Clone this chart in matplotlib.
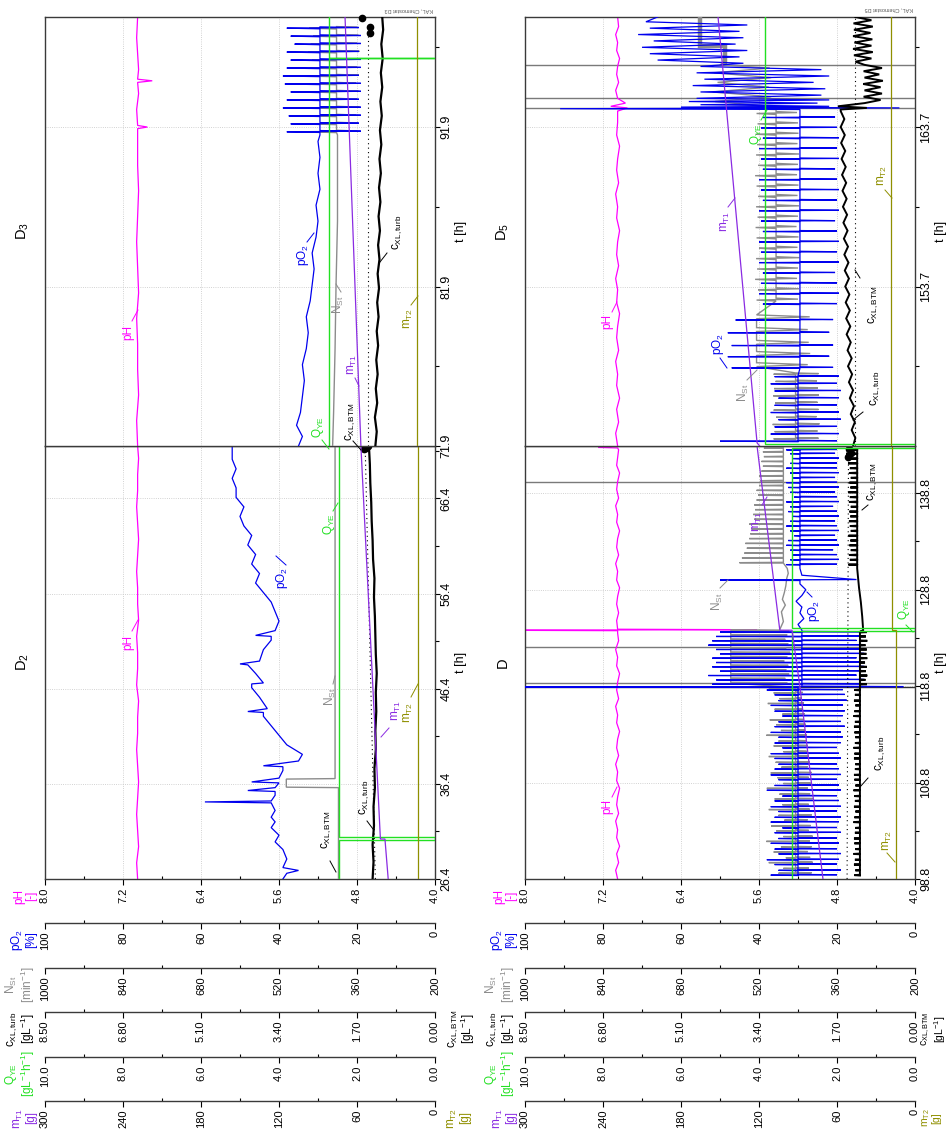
import numpy as np
import matplotlib.pyplot as plt
from matplotlib.lines import Line2D
from matplotlib.ticker import FixedLocator, FormatStrFormatter

plt.rcParams['font.family'] = ['Liberation Sans', 'DejaVu Sans']
plt.rcParams['mathtext.fontset'] = 'custom'
plt.rcParams['mathtext.rm'] = 'Liberation Sans'
plt.rcParams['mathtext.it'] = 'Liberation Sans:italic'
plt.rcParams['mathtext.bf'] = 'Liberation Sans:bold'

# ------------------------------------------------------------------ data
# time windows of the four cultivation phases [h]
t_D2 = (26.4, 71.9)
t_D3 = (71.9, 98.8)
t_D = (98.8, 143.7)
t_D5 = (143.7, 170.6)

# time axis ticks
ticks_D2 = [26.4, 36.4, 46.4, 56.4, 66.4]
ticks_D3 = [71.9, 81.9, 91.9]
ticks_D = [98.8, 108.8, 118.8, 128.8, 138.8]
ticks_D5 = [153.7, 163.7]
minor_D2 = [31.4, 41.4, 51.4, 61.4, 71.4]
minor_D3 = [76.9, 86.9, 96.9]
minor_D = [103.8, 113.8, 123.8, 133.8]
minor_D5 = [148.7, 158.7, 168.7]

# value axes: limits (max, min) and tick labels
lim_pH = (8.0, 4.0)
lim_pO2 = (100, 0)
lim_NSt = (1000, 200)
lim_cXL = (8.5, 0.0)
lim_QYE = (10.0, 0.0)
lim_mT = (300, 0)
ticks_pH = [8.0, 7.2, 6.4, 5.6, 4.8, 4.0]
ticks_pO2 = [100, 80, 60, 40, 20, 0]
ticks_NSt = [1000, 840, 680, 520, 360, 200]
ticks_cXL = [8.50, 6.80, 5.10, 3.40, 1.70, 0.00]
ticks_QYE = [10.0, 8.0, 6.0, 4.0, 2.0, 0.0]
ticks_mT = [300, 240, 180, 120, 60, 0]

# ---- phase D2
pH_D2_t = [26.4, 28.1, 29.8, 31.5, 33.2, 34.9, 36.6, 38.3, 40.0, 41.7, 43.4, 45.1, 46.8, 48.5,
           50.2, 51.9, 53.6, 55.3, 57.0, 58.7, 60.4, 62.1, 63.8, 65.5, 67.2, 68.9, 70.6, 71.9]
pH_D2_v = [7.05, 7.06, 7.04, 7.05, 7.06, 7.05, 7.04, 7.05, 7.06, 7.05, 7.05, 7.04, 7.06, 7.05,
           7.05, 7.06, 7.04, 7.05, 7.05, 7.06, 7.05, 7.04, 7.05, 7.06, 7.05, 7.05, 7.04, 7.05]
pO2_D2_t = [26.4, 27.0, 27.3, 27.6, 28.5, 29.5, 30.3, 31.0, 31.8, 32.4, 32.9, 33.6, 34.4, 34.5,
            34.6, 35.2, 35.6, 35.7, 36.0, 36.5, 36.6, 37.0, 37.8, 38.2, 38.3, 38.8, 39.5, 40.5,
            41.5, 42.5, 43.5, 43.9, 44.0, 44.3, 45.5, 46.5, 46.9, 47.0, 48.0, 48.9, 49.0, 49.3,
            50.5, 51.5, 51.9, 52.0, 52.5, 53.5, 54.5, 55.5, 56.5, 57.5, 58.5, 59.5, 60.5, 61.5,
            62.5, 63.5, 64.5, 65.5, 66.5, 67.5, 68.5, 69.5, 70.5, 71.9]
pO2_D2_v = [39, 38, 35, 39, 38, 39, 41, 40, 42, 41, 42, 41, 42, 59,
            42, 41, 41, 48, 41, 40, 47, 40, 39, 39, 44, 35, 34, 38,
            40, 42, 44, 44, 48, 43, 45, 47, 47, 44, 46, 48, 50, 45,
            44, 42, 42, 46, 41, 40, 41, 42, 44, 46, 45, 47, 46, 48,
            47, 49, 50, 49, 51, 51, 52, 51, 52, 52]
NSt_D2_t = [26.4, 36.0, 36.05, 36.9, 36.95, 71.9]
NSt_D2_v = [398, 398, 505, 505, 405, 405]
QYE_D2_t = [26.4, 30.5, 30.5, 30.8, 30.8, 71.9]
QYE_D2_v = [2.46, 2.46, 0.0, 0.0, 2.46, 2.46]
cXL_D2_t = [26.4, 28.2, 30.0, 32.0, 34.0, 36.0, 38.0, 40.0, 42.0, 44.0, 46.0, 48.0, 50.0, 52.0,
            54.0, 56.0, 58.0, 60.0, 62.0, 64.0, 66.0, 68.0, 70.0, 71.9]
cXL_D2_v = [1.36, 1.34, 1.36, 1.33, 1.34, 1.31, 1.32, 1.29, 1.30, 1.28, 1.29, 1.27, 1.29, 1.30,
            1.31, 1.33, 1.32, 1.35, 1.36, 1.38, 1.39, 1.41, 1.42, 1.44]
BTM_D2_t = [26.4, 71.5]
BTM_D2_v = [1.30, 1.52]
BTMdot_D2_t = [71.55, 71.7, 71.85]
BTMdot_D2_v = [1.55, 1.50, 1.45]
mT1_D2_t = [26.4, 30.6, 30.6, 71.9]
mT1_D2_v = [36.0, 38.5, 42.0, 57.0]
mT2_D2_t = [26.4, 71.9]
mT2_D2_v = [13.1, 13.1]

# ---- phase D3
pH_D3_t = [71.9, 73.5, 75.1, 76.7, 78.3, 79.9, 81.5, 83.1, 84.7, 86.3, 87.9, 89.5, 91.1, 91.8,
           91.9, 92.0, 93.0, 94.0, 94.7, 94.8, 94.9, 95.5, 96.5, 97.5, 98.8]
pH_D3_v = [7.05, 7.06, 7.04, 7.05, 7.05, 7.06, 7.04, 7.05, 7.06, 7.05, 7.04, 7.05, 7.05, 7.05,
           6.95, 7.05, 7.06, 7.04, 7.05, 6.90, 7.05, 7.04, 7.05, 7.06, 7.05]
pO2_D3_t = [71.9, 72.5, 73.2, 74.0, 75.0, 76.0, 77.0, 78.0, 79.0, 80.0, 81.0, 82.0, 83.0, 84.0,
            85.0, 86.0, 87.0, 88.0, 89.0, 90.0, 91.0, 91.4]
pO2_D3_v = [35, 34, 35.5, 34.5, 34, 33.5, 34, 33, 32.5, 33, 32, 31.5, 31, 31.5,
            30.5, 30, 30.5, 29.5, 30, 29.5, 30, 29.5]
osc_D3_t = [91.6, 92.1, 92.6, 93.1, 93.6, 94.1, 94.6, 95.1, 95.6, 96.1, 96.6, 97.1, 97.6, 98.1]
pO2_D3_hi = [38, 37, 37.5, 39, 38, 37, 38.5, 39, 38, 37, 38, 36, 37, 38]
pO2_D3_lo = [19, 19.5, 19, 19, 19.5, 19, 19, 19.5, 19, 19, 19.5, 19, 19, 19.5]
NSt_D3_t = [71.9, 74.0, 78.0, 82.0, 86.0, 91.4]
NSt_D3_v = [410, 408, 405, 403, 400, 400]
NSt_D3_hi = [455, 460, 450, 458, 462, 455, 450, 460, 457, 452, 460, 455, 450, 458]
NSt_D3_lo = [360, 358, 362, 355, 360, 357, 362, 356, 360, 358, 355, 360, 357, 360]
QYE_D3_t = [71.9, 96.2, 96.2, 96.25, 96.25, 98.8]
QYE_D3_v = [2.72, 2.72, 0.0, 0.0, 2.72, 2.72]
cXL_D3_t = [71.9, 72.8, 73.7, 74.6, 75.5, 76.4, 77.3, 78.2, 79.1, 80.0, 80.9, 81.8, 82.7, 83.6,
            84.5, 85.4, 86.3, 87.2, 88.1, 89.0, 89.9, 90.8, 91.7, 92.6, 93.5, 94.4, 95.3, 96.2,
            97.1, 98.0, 98.8]
cXL_D3_v = [1.30, 1.27, 1.31, 1.26, 1.29, 1.25, 1.28, 1.24, 1.27, 1.23, 1.26, 1.22, 1.25, 1.21,
            1.24, 1.20, 1.23, 1.19, 1.22, 1.18, 1.21, 1.17, 1.20, 1.16, 1.19, 1.15, 1.18, 1.14,
            1.17, 1.13, 1.15]
BTM_D3_t = [71.9, 97.8]
BTM_D3_v = [1.46, 1.46]
BTMdot_D3_t = [97.8, 98.2, 98.75]
BTMdot_D3_v = [1.42, 1.42, 1.59]
mT1_D3_t = [71.9, 98.8]
mT1_D3_v = [57.0, 69.2]
mT2_D3_t = [71.9, 98.8]
mT2_D3_v = [13.6, 13.6]

# ---- phase D
pH_D_t = [98.8, 99.7, 100.5, 101.4, 102.2, 103.1, 103.9, 104.8, 105.6, 106.5, 107.3, 108.2,
          109.0, 109.9, 110.7, 111.6, 112.4, 113.3, 114.1, 115.0, 115.8, 116.7, 117.5, 118.4,
          119.2, 120.1, 120.9, 121.8, 122.6, 123.5, 124.3, 124.55, 124.6, 124.65, 124.7,
          125.6, 126.4, 127.3, 128.1, 129.0, 129.8, 130.7, 131.5, 132.4, 133.2, 134.1,
          134.9, 135.8, 136.6, 137.5, 138.3, 139.2, 140.0, 140.9, 141.7, 142.5, 143.3,
          143.5, 143.55, 143.7]
pH_D_v = [7.05, 7.07, 7.04, 7.06, 7.03, 7.06, 7.05, 7.07, 7.04, 7.06, 7.05, 7.03,
          7.06, 7.05, 7.07, 7.04, 7.06, 7.05, 7.03, 7.06, 7.05, 7.07, 7.04, 7.06,
          7.05, 7.03, 7.06, 7.05, 7.07, 7.04, 7.05, 7.05, 8.60, 5.62, 7.05,
          7.06, 7.04, 7.06, 7.05, 7.03, 7.06, 7.05, 7.07, 7.04, 7.06, 7.05,
          7.03, 7.06, 7.05, 7.07, 7.04, 7.06, 7.05, 7.03, 7.06, 7.05, 7.04,
          7.05, 7.25, 7.05]
# dosing cycles (event times) and the extremes reached per cycle
oscA_t = [99.2, 99.7, 100.3, 100.8, 101.4, 101.9, 102.5, 103.0, 103.6, 104.1, 104.7, 105.2,
          105.8, 106.3, 106.9, 107.4, 108.0, 108.5, 109.1, 109.6, 110.2, 110.7, 111.3, 111.8,
          112.4, 112.9, 113.5, 114.0, 114.6, 115.1, 115.7, 116.2, 116.8, 117.3, 117.9, 118.4]
pO2_A_hi = [37, 35, 36, 38, 35, 36, 37, 35, 36, 34, 37, 36, 35, 37, 36, 34, 38, 36,
            35, 37, 36, 35, 36, 37, 34, 36, 35, 37, 36, 35, 34, 36, 37, 35, 36, 38]
pO2_A_lo = [20, 19, 20, 19.5, 19, 20, 19.5, 20, 19, 20, 19.5, 19, 20, 19, 19.5, 20, 19, 19.5,
            20, 19, 19.5, 20, 19, 19.5, 20, 19, 18.5, 19, 18, 19, 18.5, 18, 18.5, 17.5, 18, 18.5]
NSt_A_hi = [480, 470, 500, 465, 490, 475, 505, 470, 485, 495, 468, 480, 500, 472, 488, 478,
            504, 470, 482, 496, 474, 486, 500, 470, 490, 480, 505, 475, 485, 498, 472, 488,
            502, 478, 490, 500]
NSt_A_lo = [412, 418, 410, 415, 420, 412, 416, 410, 418, 414, 420, 412, 416, 418, 410, 415,
            420, 414, 418, 412, 420, 416, 418, 422, 420, 424, 422, 426, 424, 428, 426, 430,
            428, 432, 430, 434]
cXL_A_hi = [1.32, 1.30, 1.33, 1.31, 1.34, 1.30, 1.32, 1.33, 1.31, 1.30, 1.34, 1.32, 1.30, 1.33,
            1.31, 1.32, 1.34, 1.30, 1.32, 1.33, 1.31, 1.30, 1.33, 1.32, 1.34, 1.31, 1.30, 1.32,
            1.33, 1.31, 1.34, 1.32, 1.30, 1.33, 1.31, 1.32]
pO2_ev1_t = [118.65, 118.7, 118.75, 118.8]
pO2_ev1_v = [30, 100, 3, 29]
oscB_t = [119.0, 119.45, 119.9, 120.35, 120.8, 121.25, 121.7, 122.15, 122.6, 123.05, 123.5,
          123.95, 124.4]
pO2_B_hi = [52, 51, 53, 50, 52, 51, 52, 50, 51, 53, 52, 51, 50]
pO2_B_lo = [14, 13, 15, 14, 13, 14, 15, 13, 14, 13, 15, 14, 13]
NSt_B_lo = [462, 466, 458, 464, 460, 468, 462, 456, 464, 460, 466, 462, 458]
cXL_B_lo = [1.05, 1.08, 1.04, 1.07, 1.05, 1.09, 1.04, 1.06, 1.05, 1.08, 1.04, 1.07, 1.05]
pO2_C_t = [124.6, 125.2, 125.8, 126.4, 127.0, 127.6, 128.2, 128.8, 129.4, 129.75, 129.8,
           129.85, 130.3, 131.0]
pO2_C_v = [29, 30, 28.5, 29.5, 29, 30.5, 29, 28, 29.5, 29.5, 50, 15, 29, 29.5]
NSt_C_t = [124.6, 125.5, 126.5, 127.2, 127.8, 128.5, 129.2, 130.0, 130.5, 131.0]
NSt_C_v = [478, 470, 474, 466, 472, 468, 465, 463, 460, 462]
cXL_C_t = [124.6, 126.0, 127.5, 129.0, 130.5, 131.0]
cXL_C_v = [1.13, 1.15, 1.18, 1.22, 1.25, 1.26]
oscD_t = [131.4, 131.9, 132.4, 132.9, 133.4, 133.9, 134.4, 134.9, 135.4, 135.9, 136.4, 136.9,
          137.4, 137.9, 138.4, 138.9, 139.4, 139.9, 140.4, 140.9, 141.4, 141.9, 142.4, 142.9,
          143.3]
pO2_Dd_hi = [33, 32, 31.5, 32, 33, 32.5, 31, 32, 33, 32, 31.5, 32.5, 32, 33, 31, 32, 32.5,
             33, 31.5, 32, 33, 32, 31.5, 32, 33]
pO2_Dd_lo = [20, 19.5, 20, 21, 19.5, 20, 20.5, 19.5, 20, 20.5, 19.5, 20, 21, 19.5, 20, 20.5,
             19.5, 20, 20.5, 19.5, 20, 20, 19.5, 20.5, 20]
NSt_Dd_hi = [560, 555, 550, 545, 548, 540, 538, 535, 540, 530, 532, 528, 530, 525, 522, 525,
             520, 518, 520, 515, 512, 515, 510, 512, 510]
cXL_Dd_hi = [1.45, 1.42, 1.44, 1.40, 1.43, 1.41, 1.45, 1.40, 1.42, 1.44, 1.41, 1.43, 1.40,
             1.44, 1.42, 1.45, 1.41, 1.43, 1.40, 1.44, 1.42, 1.46, 1.48, 1.50, 1.47]
QYE_D_t = [98.8, 124.5, 124.5, 124.8, 124.8, 143.5, 143.5, 143.7]
QYE_D_v = [3.15, 3.15, 0.0, 0.0, 3.15, 3.15, 0.0, 0.0]
BTM_D_t = [98.8, 142.6]
BTM_D_v = [1.48, 1.45]
BTMdot_D_t = [142.6, 143.0, 143.4]
BTMdot_D_v = [1.45, 1.40, 1.43]
mT1_D_t = [98.8, 118.7, 124.6, 124.6, 143.7]
mT1_D_v = [70.8, 88.5, 94.6, 104.0, 121.5]
mT2_D_t = [98.8, 124.6, 124.6, 143.7]
mT2_D_v = [14.6, 14.6, 17.7, 17.7]
marks_D = [118.7, 119.1, 122.9, 140.0]

# ---- phase D5
pH_D5_t = [143.7, 144.5, 145.2, 146.0, 146.7, 147.5, 148.2, 149.0, 149.7, 150.5, 151.2,
           152.0, 152.7, 153.5, 154.2, 155.0, 155.7, 156.5, 157.2, 158.0, 158.7, 159.5,
           160.2, 161.0, 161.7, 162.5, 163.2, 164.0, 164.7, 164.9, 165.0, 165.2, 165.5,
           166.0, 166.5, 167.0, 167.5, 168.0, 168.5, 169.0, 169.5, 170.0, 170.6]
pH_D5_v = [7.05, 7.07, 7.04, 7.06, 7.03, 7.06, 7.05, 7.07, 7.04, 7.06, 7.05,
           7.03, 7.06, 7.05, 7.07, 7.04, 7.06, 7.05, 7.03, 7.06, 7.05, 7.07,
           7.04, 7.06, 7.05, 7.03, 7.06, 7.05, 7.05, 6.95, 7.12, 6.97, 7.05,
           7.07, 7.04, 7.06, 7.05, 7.03, 7.06, 7.05, 7.07, 7.04, 7.05]
oscE_t = [144.0, 144.45, 144.9, 145.35, 145.8, 146.25, 146.7, 147.15, 147.6, 148.05]
pO2_E_hi = [50, 37, 36, 35, 37, 36, 35, 36, 37, 36]
pO2_E_lo = [20, 19.5, 20, 19, 19.5, 20, 19.5, 19, 20, 19.5]
NSt_E_hi = [490, 488, 492, 485, 490, 487, 491, 489, 486, 490]
NSt_E_lo = [398, 400, 396, 402, 398, 400, 397, 399, 401, 398]
oscF_t = [148.6, 149.3, 150.0, 150.8, 151.6]
pO2_F_hi = [47, 48, 47, 48, 46]
pO2_F_lo = [21, 22, 21, 22, 21]
NSt_F_lo = [420, 415, 418, 420, 416]
oscG_t = [152.6, 153.25, 153.9, 154.55, 155.2, 155.85, 156.5, 157.15, 157.8, 158.45, 159.1,
          159.75, 160.4, 161.05, 161.7, 162.35, 163.0, 163.65, 164.3]
pO2_G_hi = [39, 40, 39.5, 39, 40, 39.5, 40, 39, 39.5, 40, 39, 39.5, 40, 39, 39.5, 40, 39,
            39.5, 39]
pO2_G_lo = [20, 19.5, 20, 20.5, 19.5, 20, 19.5, 20, 20.5, 19.5, 20, 19.5, 20, 20.5, 19.5, 20,
            19.5, 20, 20.5]
NSt_G_hi = [525, 522, 528, 524, 526, 520, 525, 527, 523, 526, 521, 525, 528, 522, 526, 524,
            527, 523, 525]
NSt_G_lo = [440, 438, 442, 440, 437, 441, 439, 443, 440, 438, 441, 439, 442, 440, 438, 441,
            439, 440, 442]
pO2_H_t = [164.8, 164.85, 164.9, 164.95, 165.0, 165.1, 165.2, 165.3, 165.4, 165.5, 165.7,
           165.9, 166.1, 166.3, 166.5, 166.7, 166.9, 167.1, 167.3, 167.5, 167.7, 167.9, 168.1,
           168.3, 168.5, 168.7, 168.9, 169.1, 169.3, 169.5, 169.7, 169.9, 170.1, 170.3, 170.6]
pO2_H_v = [29.5, 91, 4, 60, 22, 55, 25, 58, 22, 56, 24, 55, 23, 57, 26, 54, 22, 56, 24, 55,
           44, 66, 45, 68, 43, 70, 46, 67, 44, 71, 45, 68, 43, 69, 66]
NSt_H_t = [164.8, 164.9, 165.0, 165.3, 165.6, 165.9, 166.2, 166.5, 166.8, 167.1, 167.4, 167.6,
           167.8]
NSt_H_v = [485, 620, 500, 610, 495, 615, 500, 605, 495, 612, 498, 600, 590]
NSt_bar_t = [167.8, 168.8, 168.8, 170.6]
NSt_bar_v = [590, 590, 641, 641]
cXL_D5_t = [143.7, 144.2, 144.7, 145.2, 145.7, 146.2, 146.7, 147.2, 147.7, 148.2, 148.7,
            149.2, 149.7, 150.2, 150.7, 151.2, 151.7, 152.2, 152.7, 153.2, 153.7, 154.2,
            154.7, 155.2, 155.7, 156.2, 156.7, 157.2, 157.7, 158.2, 158.7, 159.2, 159.7,
            160.2, 160.7, 161.2, 161.7, 162.2, 162.7, 163.2, 163.7, 164.2, 164.7]
cXL_D5_v = [1.35, 1.30, 1.38, 1.31, 1.40, 1.33, 1.42, 1.35, 1.44, 1.37, 1.46,
            1.38, 1.47, 1.40, 1.49, 1.41, 1.50, 1.42, 1.51, 1.43, 1.52, 1.44,
            1.53, 1.45, 1.54, 1.46, 1.55, 1.47, 1.56, 1.48, 1.57, 1.49, 1.58,
            1.50, 1.59, 1.51, 1.60, 1.52, 1.61, 1.53, 1.62, 1.54, 1.62]
cXL_H_t = [164.8, 164.9, 165.0, 165.2, 165.4, 165.6, 165.8, 166.0, 166.2, 166.4, 166.6, 166.8,
           167.0, 167.2, 167.4, 167.6, 167.8, 168.0, 168.2, 168.4, 168.6, 168.8, 169.0, 169.2,
           169.4, 169.6, 169.8, 170.0, 170.2, 170.4, 170.6]
cXL_H_v = [1.62, 1.05, 1.68, 1.10, 0.75, 1.12, 0.72, 1.10, 0.75, 1.13, 0.70, 1.10,
           0.78, 1.12, 0.72, 1.10, 1.30, 0.95, 1.33, 0.92, 1.35, 0.95, 1.32, 0.93,
           1.35, 0.97, 1.33, 0.92, 1.34, 0.95, 1.30]
QYE_D5_t = [143.7, 143.85, 143.85, 170.6]
QYE_D5_v = [0.0, 0.0, 3.85, 3.85]
BTM_D5_t = [143.7, 170.6]
BTM_D5_v = [1.31, 1.31]
mT1_D5_t = [143.7, 143.9, 170.6]
mT1_D5_v = [119.5, 121.5, 151.5]
mT2_D5_t = [143.7, 170.6]
mT2_D5_v = [18.5, 18.5]
marks_D5 = [164.9, 165.5, 167.6]

# ------------------------------------------------------------------ style
C_PH = '#ff00ff'
C_PO2 = '#0000ee'
C_NST = '#8c8c8c'
C_CXL = '#000000'
C_QYE = '#22e022'
C_MT1 = '#8a2be2'
C_MT2 = '#8f8f00'
C_SPINE = '#3a3a3a'
C_GRID = '#c4c4c4'

W, H = 947, 1135
fig = plt.figure(figsize=(W / 100, H / 100), dpi=100)
fig.patch.set_facecolor('white')

PANEL_X = [45, 525]
PANEL_W = 390
SEG_LOWER = (446, 879)
SEG_UPPER = (17, 446)
AXIS_ROWS = [879, 923, 968, 1012, 1057, 1101]   # pixel rows of the value axes


def frac_rect(x0, y_top, y_bot):
    return [x0 / W, 1 - y_bot / H, PANEL_W / W, (y_bot - y_top) / H]


def fx(x):
    return x / W


def fy(y):
    return 1 - y / H


def spikes(t_ev, hi, lo, base, w):
    """Polyline of short excursions from a base level at the given event times."""
    ts, vs = [], []
    for i, t in enumerate(t_ev):
        ts += [t - w, t]
        vs += [base, hi[i]]
        if lo is not None:
            ts += [t + w, t + 2 * w]
            vs += [lo[i], base]
        else:
            ts += [t + w]
            vs += [base]
    return np.array(ts), np.array(vs)


def cat(*parts):
    t = np.concatenate([np.asarray(p[0], float) for p in parts])
    v = np.concatenate([np.asarray(p[1], float) for p in parts])
    return t, v


VAR_SPEC = [
    ('pH', lim_pH, ticks_pH, '%.1f'),
    ('NSt', lim_NSt, ticks_NSt, '%d'),
    ('pO2', lim_pO2, ticks_pO2, '%d'),
    ('cXL', lim_cXL, ticks_cXL, '%.2f'),
    ('QYE', lim_QYE, ticks_QYE, '%.1f'),
    ('mT', lim_mT, ticks_mT, '%d'),
]
ROW_OF = {'pH': 0, 'pO2': 1, 'NSt': 2, 'cXL': 3, 'QYE': 4, 'mT': 5}


def mids(vals):
    return [(a + b) / 2 for a, b in zip(vals[:-1], vals[1:])]


def make_segment(x0, seg, trange, majors, minors, lower, title):
    host = fig.add_axes(frac_rect(x0, *seg))
    host.set_ylim(*trange)
    axs = {}
    for name, lim, tks, fmt in VAR_SPEC:
        ax = host if name == 'pH' else host.twiny()
        ax.set_xlim(*lim)
        ax.xaxis.set_major_locator(FixedLocator(tks))
        ax.xaxis.set_minor_locator(FixedLocator(mids(tks)))
        ax.xaxis.set_major_formatter(FormatStrFormatter(fmt))
        axs[name] = ax
        if name != 'pH':
            ax.xaxis.set_ticks_position('bottom')
            for s in ('top', 'left', 'right'):
                ax.spines[s].set_visible(False)
            if lower:
                off = (AXIS_ROWS[ROW_OF[name]] - AXIS_ROWS[0]) * 0.72
                ax.spines['bottom'].set_position(('outward', off))
                ax.spines['bottom'].set_color(C_SPINE)
                ax.spines['bottom'].set_linewidth(1.0)
            else:
                ax.spines['bottom'].set_visible(False)
                ax.xaxis.set_visible(False)
        if lower:
            ax.tick_params(axis='x', which='major', direction='out', length=4, width=0.8,
                           pad=2, labelsize=8, labelrotation=90, colors='black',
                           bottom=True, top=False, labelbottom=True, labeltop=False)
            ax.tick_params(axis='x', which='minor', direction='in', length=2.5, width=0.8,
                           bottom=True, top=False)
    if not lower:
        host.tick_params(axis='x', which='both', length=0, labelbottom=False, top=False)
    for s in host.spines.values():
        s.set_color(C_SPINE)
        s.set_linewidth(1.0)
    host.grid(True, axis='both', which='major', ls=':', lw=0.6, color=C_GRID)
    host.set_axisbelow(True)
    # time axis on the right edge
    host.yaxis.tick_right()
    host.yaxis.set_label_position('right')
    host.yaxis.set_major_locator(FixedLocator(majors))
    host.yaxis.set_minor_locator(FixedLocator(minors))
    host.yaxis.set_major_formatter(FormatStrFormatter('%.1f'))
    host.tick_params(axis='y', which='major', direction='out', length=3.5, width=0.8, pad=0.5,
                     labelsize=9, labelrotation=90, left=False, right=True)
    host.tick_params(axis='y', which='minor', direction='out', length=3, width=0.8,
                     left=False, right=True)
    for lab in host.get_yticklabels():
        lab.set_va('center')
        lab.set_ha('left')
    host.set_ylabel('t [h]', rotation=90, fontsize=9, labelpad=1.5)
    host.text(-22 / PANEL_W, 0.5, title, transform=host.transAxes, rotation=90,
              ha='center', va='center', fontsize=10.5)
    return axs


def draw_series(axs, data):
    for name, (t, v), color, lw, extra in data:
        axs[name].plot(v, t, color=color, lw=lw, solid_joinstyle='miter', **extra)


# ---------------------------------------------------------- panel 1 (D2 | D3)
p1_lo = make_segment(PANEL_X[0], SEG_LOWER, t_D2, ticks_D2, minor_D2, True, r'D$_\mathregular{2}$')
p1_up = make_segment(PANEL_X[0], SEG_UPPER, t_D3, ticks_D3, minor_D3, False, r'D$_\mathregular{3}$')

draw_series(p1_lo, [
    ('pH', (pH_D2_t, pH_D2_v), C_PH, 0.9, {}),
    ('NSt', (NSt_D2_t, NSt_D2_v), C_NST, 1.0, {}),
    ('pO2', (pO2_D2_t, pO2_D2_v), C_PO2, 0.9, {}),
    ('cXL', (BTM_D2_t, BTM_D2_v), C_CXL, 0.8, {'ls': (0, (1, 3))}),
    ('cXL', (cXL_D2_t, cXL_D2_v), C_CXL, 1.6, {}),
    ('QYE', (QYE_D2_t, QYE_D2_v), C_QYE, 1.0, {}),
    ('mT', (mT1_D2_t, mT1_D2_v), C_MT1, 0.9, {}),
    ('mT', (mT2_D2_t, mT2_D2_v), C_MT2, 0.9, {}),
])
p1_lo['cXL'].plot(BTMdot_D2_v, BTMdot_D2_t, 'o', color=C_CXL, ms=4.5, clip_on=False)

draw_series(p1_up, [
    ('pH', (pH_D3_t, pH_D3_v), C_PH, 0.9, {}),
    ('NSt', cat((NSt_D3_t, NSt_D3_v), spikes(osc_D3_t, NSt_D3_hi, NSt_D3_lo, 402, 0.05)),
     C_NST, 1.0, {}),
    ('pO2', cat((pO2_D3_t, pO2_D3_v), spikes(osc_D3_t, pO2_D3_hi, pO2_D3_lo, 29.5, 0.04)),
     C_PO2, 0.9, {}),
    ('cXL', (BTM_D3_t, BTM_D3_v), C_CXL, 0.8, {'ls': (0, (1, 3))}),
    ('cXL', (cXL_D3_t, cXL_D3_v), C_CXL, 1.6, {}),
    ('QYE', (QYE_D3_t, QYE_D3_v), C_QYE, 1.0, {}),
    ('mT', (mT1_D3_t, mT1_D3_v), C_MT1, 0.9, {}),
    ('mT', (mT2_D3_t, mT2_D3_v), C_MT2, 0.9, {}),
])
p1_up['cXL'].plot(BTMdot_D3_v, BTMdot_D3_t, 'o', color=C_CXL, ms=4.5, clip_on=False)

# ---------------------------------------------------------- panel 2 (D | D5)
p2_lo = make_segment(PANEL_X[1], SEG_LOWER, t_D, ticks_D, minor_D, True, 'D')
p2_up = make_segment(PANEL_X[1], SEG_UPPER, t_D5, ticks_D5, minor_D5, False, r'D$_\mathregular{5}$')

for tm in marks_D:
    p2_lo['pH'].axhline(tm, color='#7a7a7a' if tm != marks_D[0] else '#333333', lw=1.0)
for tm in marks_D5:
    p2_up['pH'].axhline(tm, color='#7a7a7a', lw=1.0)

pO2_D_all = cat(spikes(oscA_t, pO2_A_hi, pO2_A_lo, 30, 0.04), (pO2_ev1_t, pO2_ev1_v),
                spikes(oscB_t, pO2_B_hi, pO2_B_lo, 29, 0.04), (pO2_C_t, pO2_C_v),
                spikes(oscD_t, pO2_Dd_hi, pO2_Dd_lo, 29.5, 0.04))
NSt_D_all = cat(spikes([t + 0.2 for t in oscA_t], NSt_A_hi, NSt_A_lo, 445, 0.04),
                spikes([t + 0.15 for t in oscB_t], NSt_B_lo, None, 578, 0.05),
                (NSt_C_t, NSt_C_v),
                spikes([t + 0.2 for t in oscD_t], NSt_Dd_hi, None, 470, 0.04))
cXL_D_all = cat(spikes(oscA_t, cXL_A_hi, None, 1.20, 0.04),
                spikes(oscB_t, cXL_B_lo, None, 1.20, 0.04),
                (cXL_C_t, cXL_C_v),
                spikes(oscD_t, cXL_Dd_hi, None, 1.26, 0.04))

draw_series(p2_lo, [
    ('pH', (pH_D_t, pH_D_v), C_PH, 0.9, {}),
    ('NSt', NSt_D_all, C_NST, 1.0, {}),
    ('pO2', pO2_D_all, C_PO2, 0.9, {}),
    ('cXL', (BTM_D_t, BTM_D_v), C_CXL, 0.8, {'ls': (0, (1, 3))}),
    ('cXL', cXL_D_all, C_CXL, 1.4, {}),
    ('QYE', (QYE_D_t, QYE_D_v), C_QYE, 1.0, {}),
    ('mT', (mT1_D_t, mT1_D_v), C_MT1, 0.9, {}),
    ('mT', (mT2_D_t, mT2_D_v), C_MT2, 0.9, {}),
])
p2_lo['cXL'].plot(BTMdot_D_v, BTMdot_D_t, 'o', color=C_CXL, ms=4.5, clip_on=False)

pO2_D5_all = cat(spikes(oscE_t, pO2_E_hi, pO2_E_lo, 30, 0.03),
                 spikes(oscF_t, pO2_F_hi, pO2_F_lo, 29.5, 0.03),
                 spikes(oscG_t, pO2_G_hi, pO2_G_lo, 29.5, 0.03),
                 (pO2_H_t, pO2_H_v))
NSt_D5_all = cat(spikes([t + 0.15 for t in oscE_t], NSt_E_hi, NSt_E_lo, 445, 0.04),
                 spikes([t + 0.2 for t in oscF_t], NSt_F_lo, None, 525, 0.12),
                 spikes([t + 0.25 for t in oscG_t], NSt_G_hi, NSt_G_lo, 485, 0.06),
                 (NSt_H_t, NSt_H_v))
draw_series(p2_up, [
    ('pH', (pH_D5_t, pH_D5_v), C_PH, 0.9, {}),
    ('NSt', NSt_D5_all, C_NST, 1.0, {}),
    ('NSt', (NSt_bar_t, NSt_bar_v), C_NST, 3.2, {}),
    ('pO2', pO2_D5_all, C_PO2, 0.9, {}),
    ('cXL', (BTM_D5_t, BTM_D5_v), C_CXL, 0.8, {'ls': (0, (1, 3))}),
    ('cXL', cat((cXL_D5_t, cXL_D5_v), (cXL_H_t, cXL_H_v)), C_CXL, 1.4, {}),
    ('QYE', (QYE_D5_t, QYE_D5_v), C_QYE, 1.0, {}),
    ('mT', (mT1_D5_t, mT1_D5_v), C_MT1, 0.9, {}),
    ('mT', (mT2_D5_t, mT2_D5_v), C_MT2, 0.9, {}),
])

# ---------------------------------------------------------- value-axis titles
LEFT_TITLES = [
    ('pH\n[-]', C_PH),
    ('pO$_\\mathregular{2}$\n[%]', C_PO2),
    ('N$_\\mathregular{St}$\n[min$^\\mathregular{-1}$]', C_NST),
    ('c$_\\mathregular{XL,turb}$\n[gL$^\\mathregular{-1}$]', C_CXL),
    ('Q$_\\mathregular{YE}$\n[gL$^\\mathregular{-1}$h$^\\mathregular{-1}$]', C_QYE),
    ('m$_\\mathregular{T1}$\n[g]', C_MT1),
]
RIGHT_TITLES = {3: ('c$_\\mathregular{XL,BTM}$\n[gL$^\\mathregular{-1}$]', C_CXL),
                5: ('m$_\\mathregular{T2}$\n[g]', C_MT2)}
for i, x0 in enumerate(PANEL_X):
    for row, (txt, col) in enumerate(LEFT_TITLES):
        fig.text(fx(x0 - 8), fy(AXIS_ROWS[row] + 17), txt, color=col, rotation=90,
                 ha='right', va='center', multialignment='center', fontsize=8.5,
                 linespacing=1.0)
    for row, (txt, col) in RIGHT_TITLES.items():
        fig.text(fx(x0 + PANEL_W + (11 if i == 0 else 5)), fy(AXIS_ROWS[row] + 17), txt,
                 color=col, rotation=90, ha='left', va='center', multialignment='center',
                 fontsize=8.5 if i == 0 else 7.5, linespacing=0.95)

fig.text(fx(409), fy(10), 'KAL, Chemostat D3', rotation=180, fontsize=4, color='#555555',
         ha='center', va='center')
fig.text(fx(889), fy(9), 'KAL, Chemostat D5', rotation=180, fontsize=4, color='#555555',
         ha='center', va='center')

# ---------------------------------------------------------- curve tags
S_PO2 = 'pO$_\\mathregular{2}$'
S_NST = 'N$_\\mathregular{St}$'
S_QYE = 'Q$_\\mathregular{YE}$'
S_TURB = 'c$_\\mathregular{XL,turb}$'
S_BTM = 'c$_\\mathregular{XL,BTM}$'
S_MT1 = 'm$_\\mathregular{T1}$'
S_MT2 = 'm$_\\mathregular{T2}$'
TAGS = [
    # panel 1, D2
    ('pH', C_PH, 128, 642, (132, 631, 138, 620)),
    (S_PO2, C_PO2, 282, 578, (286, 565, 276, 556)),
    (S_NST, C_NST, 330, 697, (333, 684, 335, 676)),
    (S_QYE, C_QYE, 329, 524, (333, 511, 338, 503)),
    (S_BTM, C_CXL, 326, 830, (330, 861, 336, 872)),
    (S_TURB, C_CXL, 364, 797, (367, 821, 373, 829)),
    (S_MT1, C_MT1, 396, 710, (389, 728, 381, 737)),
    (S_MT2, C_MT2, 408, 712, (411, 697, 418, 684)),
    # panel 1, D3
    ('pH', C_PH, 128, 332, (132, 321, 138, 310)),
    (S_PO2, C_PO2, 303, 255, (307, 242, 314, 233)),
    (S_NST, C_NST, 338, 305, (341, 292, 336, 284)),
    (S_QYE, C_QYE, 318, 427, (322, 440, 329, 449)),
    (S_MT1, C_MT1, 352, 364, (355, 378, 359, 386)),
    (S_BTM, C_CXL, 350, 422, (353, 441, 361, 450)),
    (S_TURB, C_CXL, 397, 232, (387, 253, 380, 262)),
    (S_MT2, C_MT2, 408, 318, (411, 305, 418, 296)),
    # panel 2, D
    ('pH', C_PH, 607, 806, (612, 797, 617, 787)),
    (S_NST, C_NST, 717, 602, (720, 588, 728, 580)),
    (S_PO2, C_PO2, 814, 611, (812, 597, 807, 592)),
    (S_MT1, C_MT1, 757, 521, (762, 505, 767, 497)),
    (S_QYE, C_QYE, 904, 609, (906, 625, 913, 632)),
    (S_TURB, C_CXL, 880, 753, (868, 778, 860, 787)),
    (S_BTM, C_CXL, 872, 482, (868, 505, 862, 510)),
    (S_MT2, C_MT2, 887, 840, (887, 853, 895, 862)),
    # panel 2, D5
    ('pH', C_PH, 607, 321, (612, 312, 617, 302)),
    (S_MT1, C_MT1, 725, 221, (728, 207, 735, 198)),
    (S_QYE, C_QYE, 756, 134, (761, 120, 767, 110)),
    (S_PO2, C_PO2, 718, 344, (720, 358, 727, 368)),
    (S_NST, C_NST, 743, 393, (747, 380, 757, 370)),
    (S_TURB, C_CXL, 875, 388, (863, 412, 853, 420)),
    (S_BTM, C_CXL, 873, 305, (860, 278, 855, 270)),
    (S_MT2, C_MT2, 882, 175, (885, 190, 892, 198)),
]
for txt, col, x, y, (x1, y1, x2, y2) in TAGS:
    fig.text(fx(x), fy(y), txt, color=col, rotation=90, ha='center', va='center',
             fontsize=8.5)
    fig.add_artist(Line2D([fx(x1), fx(x2)], [fy(y1), fy(y2)], color=col, lw=0.7))

fig.savefig('out.png', dpi=100, facecolor='white')
